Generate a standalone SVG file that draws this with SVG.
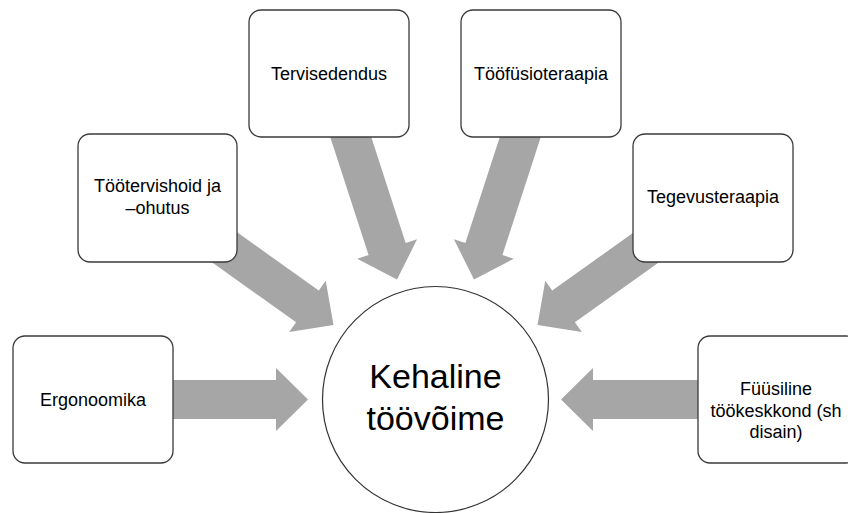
<svg xmlns="http://www.w3.org/2000/svg" width="848" height="513" viewBox="0 0 848 513">
<style>
.box{fill:#fff;stroke:#3a3a3a;stroke-width:1.3}
.arr{fill:#a6a6a6;stroke:none}
.t{font-family:"Liberation Sans",Arial,sans-serif;font-size:18px;fill:#000;text-anchor:middle}
.big{font-family:"Liberation Sans",Arial,sans-serif;font-size:34px;fill:#000;text-anchor:middle}
</style>
<defs>
<polygon id="head180" points="-180,-19.5 -32,-19.5 -32,-31.5 0,0 -32,31.5 -32,19.5 -180,19.5"/>
<polygon id="head170" points="-170,-19.5 -32,-19.5 -32,-31.5 0,0 -32,31.5 -32,19.5 -170,19.5"/>
</defs>
<g id="connectors">
<polygon class="arr" points="165,380 276,380 276,368 308,399.5 276,431 276,419 165,419"/>
<polygon class="arr" points="706,380 593,380 593,368 561,399.5 593,431 593,419 706,419"/>
<use class="arr" href="#head180" transform="translate(333.5,325) rotate(35.5)"/>
<use class="arr" href="#head180" transform="translate(537.5,325) rotate(144.5)"/>
<use class="arr" href="#head170" transform="translate(397,279.5) rotate(72)"/>
<use class="arr" href="#head170" transform="translate(474,279.5) rotate(108)"/>
</g>
<g id="center">
<circle cx="435.5" cy="399.5" r="113" fill="#fff" stroke="#333" stroke-width="1.2"/>
<text class="big" x="435.5" y="388">Kehaline</text>
<text class="big" x="435.5" y="430">töövõime</text>
</g>
<g id="ergonoomika">
<rect class="box" x="13" y="336" width="160" height="127" rx="12"/>
<text class="t" x="93" y="406">Ergonoomika</text>
</g>
<g id="tootervishoid">
<rect class="box" x="78" y="134" width="159" height="128" rx="12"/>
<text class="t" x="157.5" y="192">Töötervishoid ja</text>
<text class="t" x="157.5" y="214">–ohutus</text>
</g>
<g id="tervisedendus">
<rect class="box" x="249" y="10" width="160" height="127" rx="12"/>
<text class="t" x="329" y="80">Tervisedendus</text>
</g>
<g id="toofusioteraapia">
<rect class="box" x="461" y="10" width="160" height="127" rx="12"/>
<text class="t" x="541" y="80">Tööfüsioteraapia</text>
</g>
<g id="tegevusteraapia">
<rect class="box" x="633" y="134" width="160" height="128" rx="12"/>
<text class="t" x="713" y="203">Tegevusteraapia</text>
</g>
<g id="fuusiline">
<rect class="box" x="698" y="336" width="160" height="127" rx="12"/>
<text class="t" x="776" y="395">Füüsiline</text>
<text class="t" x="776" y="417">töökeskkond (sh</text>
<text class="t" x="776" y="438">disain)</text>
</g>
</svg>
